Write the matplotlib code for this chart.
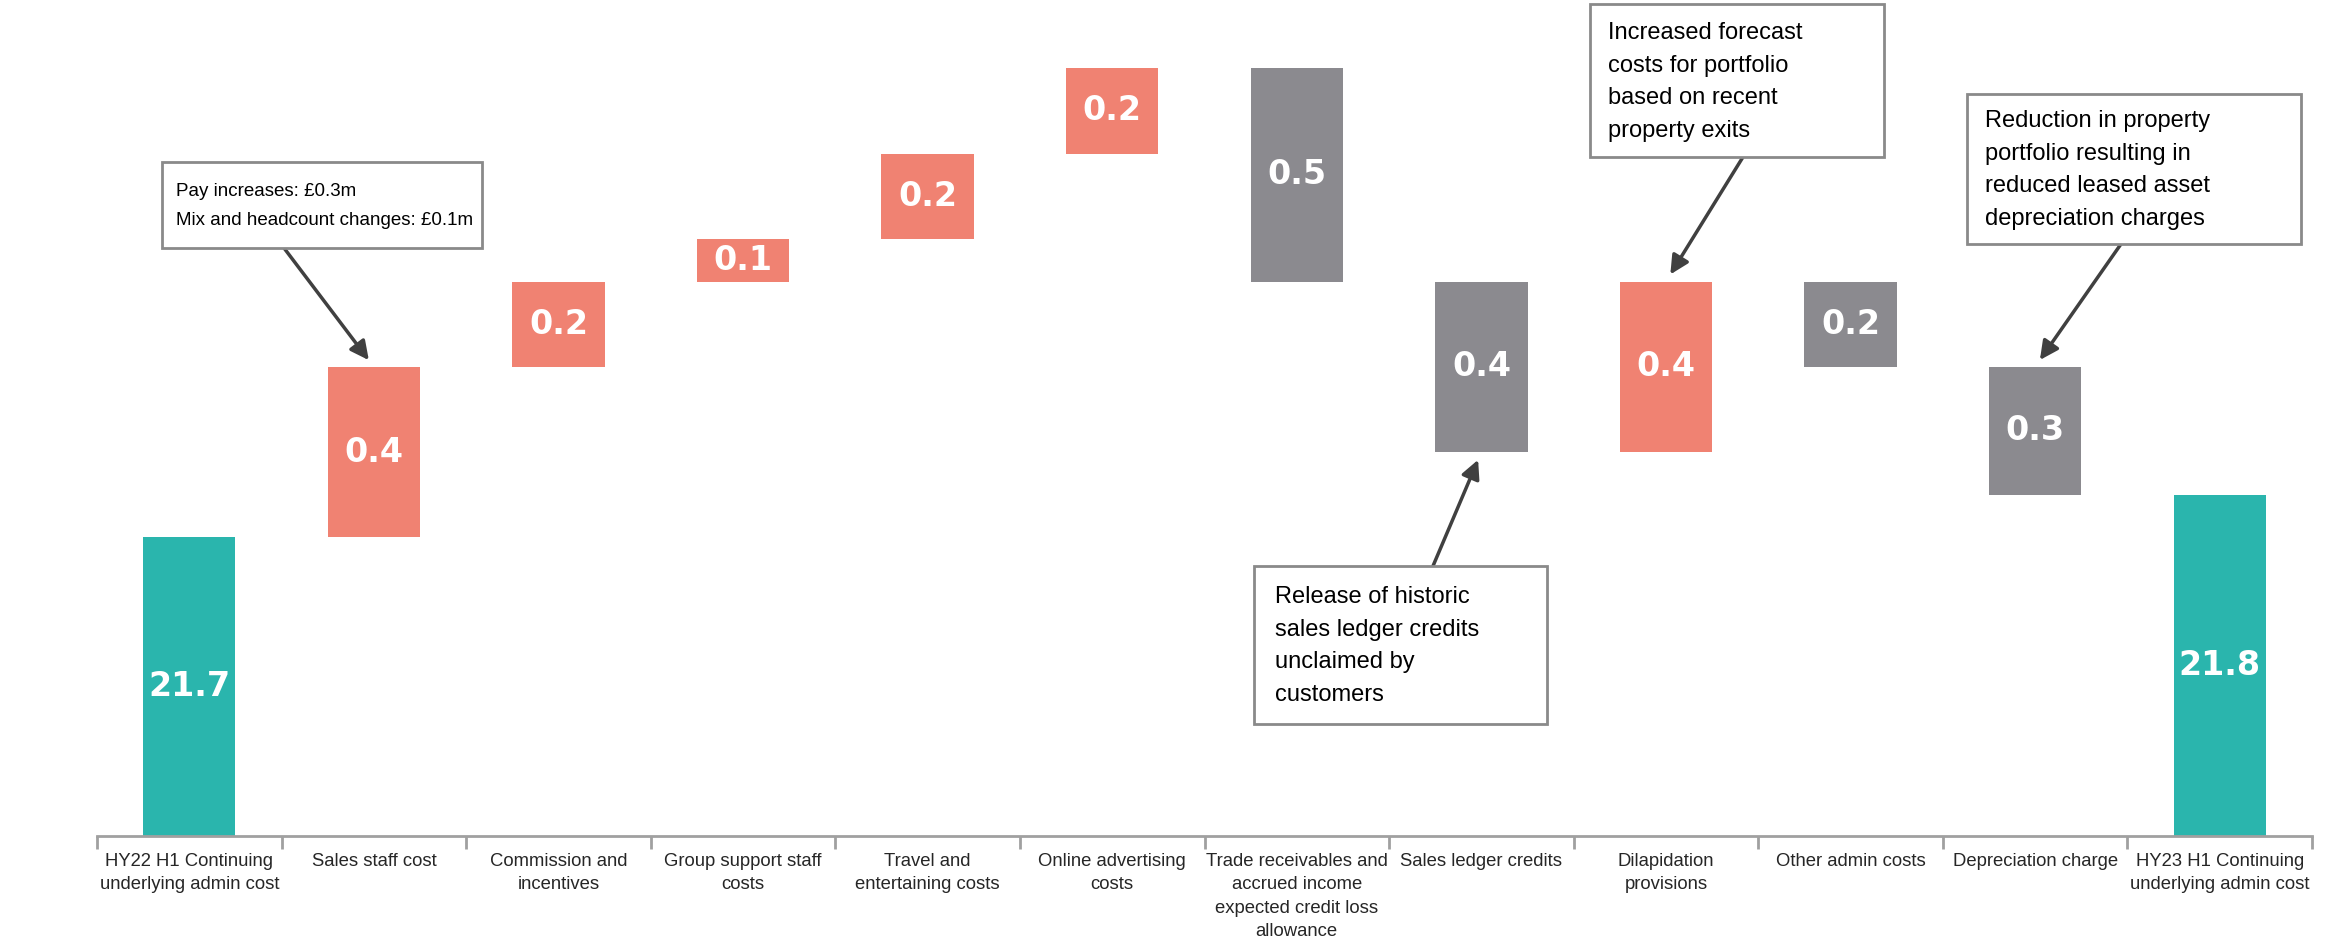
import numpy as np
import matplotlib
matplotlib.use("Agg")
import matplotlib.pyplot as plt
from matplotlib.patches import Rectangle

# waterfall data (GBP m)
categories = ["HY22 H1 Continuing\nunderlying admin cost", "Sales staff cost",
              "Commission and\nincentives", "Group support staff\ncosts",
              "Travel and\nentertaining costs", "Online advertising\ncosts",
              "Trade receivables and\naccrued income\nexpected credit loss\nallowance",
              "Sales ledger credits", "Dilapidation\nprovisions", "Other admin costs",
              "Depreciation charge", "HY23 H1 Continuing\nunderlying admin cost"]
start_value = 21.7
deltas = [0.4, 0.2, 0.1, 0.2, 0.2, -0.5, -0.4, 0.4, -0.2, -0.3]
end_value = 21.8

teal = "#2AB5AD"
salmon = "#F08272"
grey = "#8B8A8F"

W, H = 2346, 947
fig = plt.figure(figsize=(W / 100, H / 100), dpi=100)
ax = fig.add_axes([97 / W, 1 - 836 / H, 2215 / W, 836 / H])

y0 = 21.0
x = np.arange(len(categories))
w = 0.5
vfont = dict(ha="center", va="center", color="white", fontsize=24,
             fontweight="bold", family="DejaVu Sans")

# totals
ax.bar(0, start_value - y0, bottom=y0, width=w, color=teal)
ax.bar(len(categories) - 1, end_value - y0, bottom=y0, width=w, color=teal)
ax.text(0, (start_value + y0) / 2, f"{start_value:.1f}", **vfont)
ax.text(len(categories) - 1, (end_value + y0) / 2, f"{end_value:.1f}", **vfont)

levels = [start_value]
level = start_value
for i, d in enumerate(deltas, start=1):
    lo = min(level, level + d)
    ax.bar(i, abs(d), bottom=lo, width=w, color=salmon if d > 0 else grey)
    ax.text(i, lo + abs(d) / 2, f"{abs(d):.1f}", **vfont)
    level = level + d
    levels.append(level)

ax.set_xlim(-0.5, len(categories) - 0.5)
ax.set_ylim(y0, 22.96)

for s in ["top", "right", "left"]:
    ax.spines[s].set_visible(False)
ax.spines["bottom"].set_color("#A0A0A0")
ax.spines["bottom"].set_linewidth(2)
ax.set_yticks([])
ax.set_xticks(x)
ax.set_xticklabels(categories, fontsize=13.3, color="#262626",
                   family=["Liberation Sans", "DejaVu Sans"], linespacing=1.5)
ax.tick_params(axis="x", which="major", length=0, pad=12)
ax.set_xticks(np.arange(-0.5, len(categories)), minor=True)
ax.tick_params(axis="x", which="minor", length=9, width=2, color="#A0A0A0")


def fx(px):
    return px / W


def fy(py):
    return 1 - py / H


def callout(text, box, text_x, text_y, start, tip, size, ls):
    # box = (left, top, right, bottom) in figure pixels from top-left
    l, t, r, b = box
    fig.patches.append(Rectangle((fx(l), fy(b)), fx(r - l), (b - t) / H,
                                 transform=fig.transFigure, fc="white",
                                 ec="#8A8A8A", lw=2, zorder=5))
    fig.text(fx(text_x), fy(text_y), text, ha="left", va="center", fontsize=size,
             family=["Liberation Sans", "DejaVu Sans"], color="black",
             linespacing=ls, zorder=6)
    ax.annotate("", xy=tip, xycoords="data", xytext=(fx(start[0]), fy(start[1])),
                textcoords="figure fraction",
                arrowprops=dict(arrowstyle="-|>", color="#404040", lw=2.5,
                                mutation_scale=28, shrinkA=0, shrinkB=6))


callout("Pay increases: £0.3m\nMix and headcount changes: £0.1m",
        (162, 162, 482, 248), 176, 206, (284, 248), (1, levels[1]), 13.5, 1.95)
callout("Release of historic\nsales ledger credits\nunclaimed by\ncustomers",
        (1254, 566, 1547, 724), 1275, 646, (1433, 566), (7, levels[7]), 17, 1.62)
callout("Increased forecast\ncosts for portfolio\nbased on recent\nproperty exits",
        (1590, 4, 1884, 157), 1608, 82, (1743, 157), (8, levels[8]), 17, 1.62)
callout("Reduction in property\nportfolio resulting in\nreduced leased asset\ndepreciation charges",
        (1967, 94, 2301, 244), 1985, 170, (2121, 244), (10, levels[9]), 17, 1.62)

fig.savefig("out.png", dpi=100)
